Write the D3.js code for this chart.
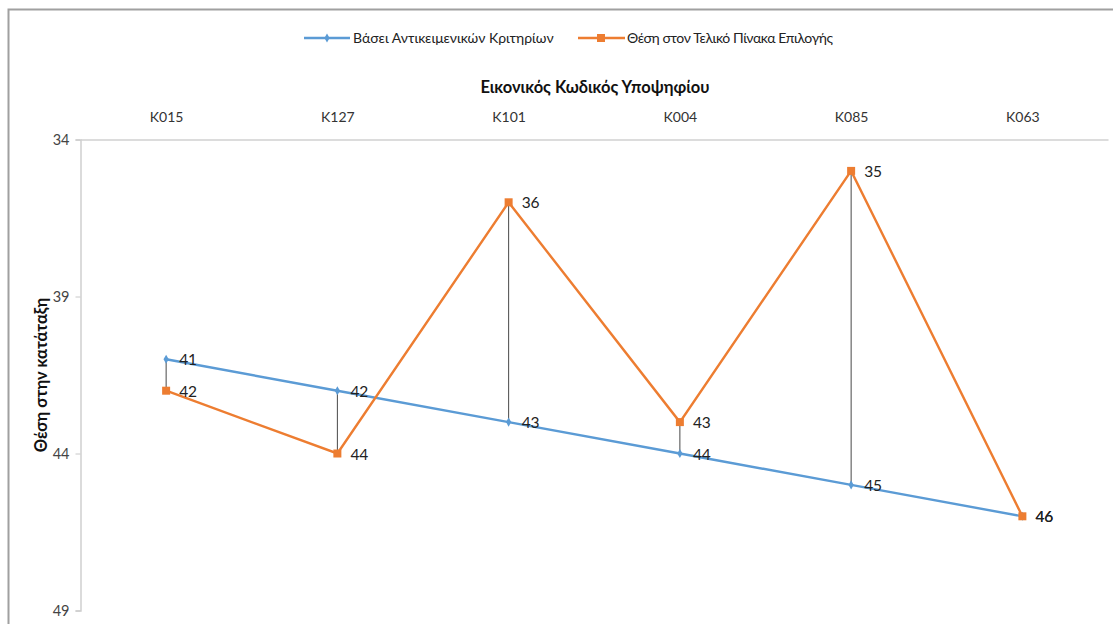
<!DOCTYPE html>
<html><head><meta charset="utf-8">
<script src="https://cdn.jsdelivr.net/npm/d3@7"></script>
<style>body{margin:0;background:#fff}svg{display:block}text{font-family:Lato,"Open Sans",sans-serif}</style>
</head><body>
<svg id="c" width="1115" height="624"></svg>
<script>
const categories = ["K015","K127","K101","K004","K085","K063"];
const objective = [41,42,43,44,45,46];
const finalRank = [42,44,36,43,35,46];
const yTicks = [34,39,44,49];
const seriesNames = ["Βάσει Αντικειμενικών Κριτηρίων","Θέση στον Τελικό Πίνακα Επιλογής"];
const xTitle = "Εικονικός Κωδικός Υποψηφίου";
const yTitle = "Θέση στην κατάταξη";

const svg = d3.select("#c");
const blue = "#5b9bd5", orange = "#ed7d31";
const pLeft = 80.5, pRight = 1108, pTop = 139.5, pBottom = 610.5;

// chart border
svg.append("path").attr("d","M8.5,624 V9.5 H1113").attr("fill","none").attr("stroke","#a0a0a0").attr("stroke-width",2);

const x = d3.scalePoint().domain(categories).range([pLeft, pRight]).padding(0.5);
const y = d3.scaleLinear().domain([34,49]).range([pTop, pBottom]);

// axes
const yAxis = svg.append("g").attr("transform",`translate(${pLeft},0)`)
  .call(d3.axisLeft(y).tickValues(yTicks).tickSize(5).tickPadding(6));
yAxis.select(".domain").attr("stroke","#d0d0d0").attr("stroke-width",1.5);
yAxis.selectAll(".tick line").attr("stroke","#c8c8c8");
yAxis.selectAll("text").attr("font-size",14.5).attr("fill","#444");

const xAxis = svg.append("g").attr("transform",`translate(0,${pTop})`)
  .call(d3.axisTop(x).tickSize(0).tickPadding(18));
xAxis.select(".domain").attr("stroke","#d0d0d0").attr("stroke-width",1.5);
xAxis.selectAll("text").attr("font-size",14).attr("fill","#333");

// titles
svg.append("text").attr("x",595).attr("y",93).attr("text-anchor","middle")
  .attr("font-size",16.5).attr("font-weight","bold").attr("fill","#111").text(xTitle);
svg.append("text").attr("transform","translate(47,375) rotate(-90)").attr("text-anchor","middle")
  .attr("font-size",16.5).attr("font-weight","bold").attr("fill","#111").text(yTitle);

// drop lines
svg.append("g").selectAll("line").data(categories).join("line")
  .attr("x1",d=>x(d)).attr("x2",d=>x(d))
  .attr("y1",(d,i)=>y(objective[i])).attr("y2",(d,i)=>y(finalRank[i]))
  .attr("stroke","#333").attr("stroke-width",0.9);

const line = d3.line().x((d,i)=>x(categories[i])).y(d=>y(d));
svg.append("path").datum(objective).attr("d",line).attr("fill","none").attr("stroke",blue).attr("stroke-width",2.4);
svg.append("path").datum(finalRank).attr("d",line).attr("fill","none").attr("stroke",orange).attr("stroke-width",2.4);

// markers
svg.append("g").selectAll("path").data(objective).join("path")
  .attr("d",d3.symbol(d3.symbolDiamond,24))
  .attr("transform",(d,i)=>`translate(${x(categories[i])},${y(d)})`).attr("fill",blue);
svg.append("g").selectAll("rect").data(finalRank).join("rect")
  .attr("x",(d,i)=>x(categories[i])-4).attr("y",d=>y(d)-4).attr("width",8).attr("height",8).attr("fill",orange);

// labels
const lab = (arr)=>svg.append("g").selectAll("text").data(arr).join("text")
  .attr("x",(d,i)=>x(categories[i])+13).attr("y",d=>y(d)+6)
  .attr("font-size",15.5).attr("fill","#222").text(d=>d);
lab(objective); lab(finalRank);

// legend
const lg = svg.append("g");
lg.append("line").attr("x1",304).attr("x2",350).attr("y1",38).attr("y2",38).attr("stroke",blue).attr("stroke-width",2.4);
lg.append("path").attr("d",d3.symbol(d3.symbolDiamond,24)).attr("transform","translate(327,38)").attr("fill",blue);
lg.append("text").attr("x",353).attr("y",43).attr("font-size",14).attr("fill","#222").text(seriesNames[0]);
lg.append("line").attr("x1",578).attr("x2",625).attr("y1",38).attr("y2",38).attr("stroke",orange).attr("stroke-width",2.4);
lg.append("rect").attr("x",597).attr("y",34).attr("width",8).attr("height",8).attr("fill",orange);
lg.append("text").attr("x",627).attr("y",43).attr("font-size",14).attr("fill","#222").attr("textLength",206).text(seriesNames[1]);
</script>
</body></html>
